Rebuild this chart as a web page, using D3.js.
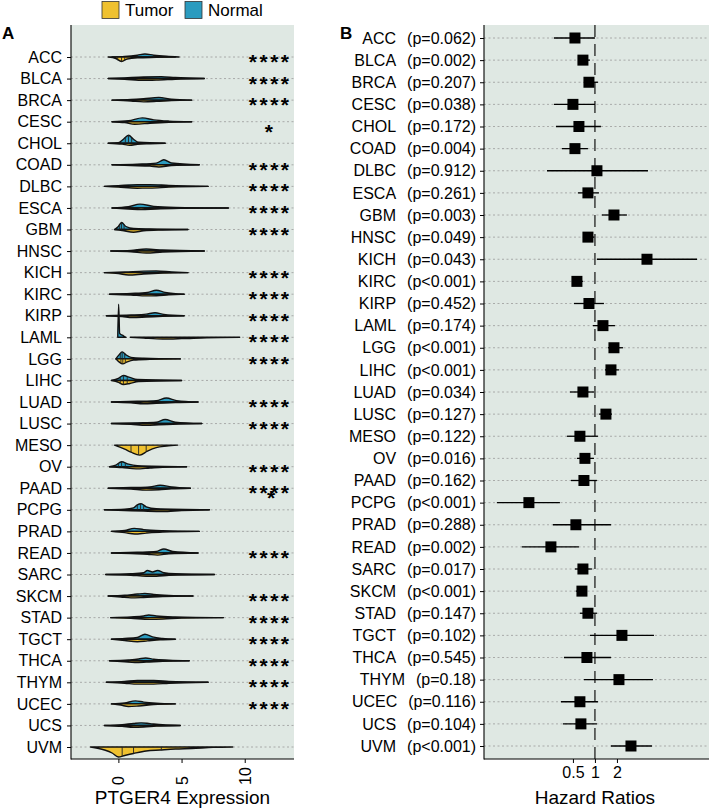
<!DOCTYPE html>
<html>
<head>
<meta charset="utf-8">
<script src="https://d3js.org/d3.v7.min.js"></script>
<style>
    body { margin: 0; background: #fff; }
    text { font-family: "Liberation Sans", Arial, sans-serif; }
    .grid line { stroke: #9a9a9a; stroke-width: 0.8; stroke-dasharray: 2, 2.5; }
</style>
</head>
<body>
<svg id="chart" width="709" height="809"></svg>
<script>
// ---- data ----
const cancers = ["ACC","BLCA","BRCA","CESC","CHOL","COAD","DLBC","ESCA","GBM","HNSC","KICH",
    "KIRC","KIRP","LAML","LGG","LIHC","LUAD","LUSC","MESO","OV","PAAD","PCPG","PRAD","READ",
    "SARC","SKCM","STAD","TGCT","THCA","THYM","UCEC","UCS","UVM"];

const sigLabels = ["****","****","****","*","","****","****","****","****","","****",
    "****","****","****","****","","****","****","","****","****","","","****",
    "","****","****","****","****","****","****","",""];
const extraSig = [{cancer: "PAAD", label: "*"}];

// violin halves, [expression, density] knots
const normalDensity = [
    [[-0.5,0],[0.5,0.5],[1.5,1.8],[2.1,3],[2.8,1.8],[3.8,0.7],[4.8,0]],
    [[-0.8,0],[0.5,0.7],[2,1.6],[3.4,1.9],[4.5,1],[6.8,0]],
    [[-0.5,0],[1,0.6],[2,1.4],[3.2,2.6],[4.2,0.9],[5.8,0]],
    [[-0.5,0],[0.8,0.9],[1.9,3.8],[2.8,1.8],[4,0.6],[5.8,0]],
    [[-0.8,0],[0,0.5],[0.4,4],[0.8,8],[1.2,4],[1.6,1],[3.7,0]],
    [[-0.5,0],[1.5,0.7],[3,1.7],[3.6,5],[4.2,1.8],[6.4,0]],
    [[-1.1,0],[0,0.8],[1.5,1.8],[2.5,1.8],[4,0.9],[7.1,0]],
    [[-0.5,0],[0.8,1.2],[1.7,3.8],[2.8,1.6],[4.5,0.6],[8.7,0]],
    [[-0.3,0],[0,3],[0.25,7],[0.6,3],[1.2,1],[2.5,0.5],[5.5,0]],
    [[-0.6,0],[1,0.7],[2.2,2],[3.5,1],[6.8,0]],
    [[-1.1,0],[0.5,0.6],[2,1.5],[3,1.7],[4.2,0.8],[5.5,0]],
    [[-0.7,0],[1,0.7],[2.3,1.7],[3,4],[3.7,1.8],[5.2,0]],
    [[-0.95,0],[1,0.7],[2.2,1.6],[2.9,3],[3.6,1.3],[5.2,0]],
    [[-0.05,0],[0.02,33],[0.1,4],[0.4,1.5],[0.6,0]],
    [[-0.2,0],[0.05,4],[0.3,7],[0.6,4],[1,1.5],[2,0.7],[4.9,0]],
    [[-0.55,0],[0,2],[0.4,5],[0.9,3],[1.5,1],[5,0]],
    [[-0.55,0],[1.5,0.7],[3,1.4],[3.8,4],[4.6,1.4],[6.3,0]],
    [[-0.55,0],[1.5,0.7],[3,1.4],[3.7,4],[4.5,1.4],[6.6,0]],
    null,
    [[-0.7,0],[-0.2,1.5],[0.25,5],[0.8,2.5],[1.5,1],[5.4,0]],
    [[-0.8,0],[1,0.7],[2.5,1.4],[3.3,3],[4.2,1.4],[5.7,0]],
    [[-1.1,0],[0.5,0.6],[1.2,2],[1.5,5],[1.8,6],[2.2,3],[3,1],[7.2,0]],
    [[-0.55,0],[0.5,0.9],[1.25,3],[2,1.8],[3.5,0.7],[6.4,0]],
    [[-0.55,0],[1.5,0.7],[3,1.4],[3.6,4],[4.3,1.4],[6.3,0]],
    [[-1,0],[1,0.7],[2,1.8],[2.3,4],[2.7,2.5],[3.1,4],[3.6,1.8],[4.5,0.7],[7.6,0]],
    [[-0.8,0],[0.5,0.8],[1.5,2],[2.1,2.6],[2.8,1.6],[4,0.6],[5.9,0]],
    [[-0.6,0],[1,0.7],[2,1.6],[2.4,2.7],[3,1.6],[4.5,0.7],[8.3,0]],
    [[-0.55,0],[0.5,0.7],[1.5,1.8],[2.1,5],[2.7,2.3],[3.5,0.7],[4.5,0]],
    [[-0.7,0],[0.8,0.8],[1.6,1.7],[2.15,2.8],[2.8,1.5],[4,0.6],[5.6,0]],
    [[-0.95,0],[0.5,0.9],[1.5,1.8],[2.8,1.8],[4,0.9],[7.1,0]],
    [[-0.55,0],[0.5,0.9],[1.35,3],[2,1.8],[3,0.7],[4.5,0]],
    [[-1.1,0],[0.3,0.8],[1.2,2],[1.8,2.6],[2.5,1.8],[3.5,0.7],[4.9,0]],
    null
];
const tumorDensity = [
    [[-0.8,0],[-0.2,1.5],[0.25,4.5],[0.7,2],[1.5,0.9],[3,0.4],[4.5,0]],
    [[-0.8,0],[0.5,0.7],[2,1.7],[3,1.6],[4.5,0.7],[6.8,0]],
    [[-0.5,0],[1,0.9],[2,1.7],[3,1.3],[4.2,0.5],[5.8,0]],
    [[-0.5,0],[0.5,0.9],[1.3,2.6],[2.5,1.5],[4,0.5],[5.8,0]],
    [[-0.8,0],[0.3,0.9],[0.9,2],[1.5,1.1],[2.5,0.5],[3.7,0]],
    [[-0.5,0],[1,0.7],[2.5,1.3],[3.2,2.2],[4.2,0.8],[6.4,0]],
    [[-1.1,0],[0,0.8],[1.5,1.8],[2.5,1.7],[4,0.8],[7.1,0]],
    [[-0.5,0],[0.8,1],[1.8,1.7],[3,1],[5,0.4],[8.7,0]],
    [[-0.3,0],[0.3,1],[1.2,2.8],[2,1.3],[3.5,0.5],[5.5,0]],
    [[-0.6,0],[1,0.7],[2.2,2],[3.5,1],[6.8,0]],
    [[-1.1,0],[0,1],[0.8,2.4],[2,1.4],[3.5,0.5],[5.5,0]],
    [[-0.7,0],[1,0.8],[2.2,1.7],[3,1.5],[4,0.7],[5.2,0]],
    [[-0.95,0],[0.3,0.8],[1.1,1.8],[2.2,1.3],[3.5,0.6],[5.2,0]],
    [[0.95,0],[2,0.8],[3.5,1.7],[5,1.3],[7,0.4],[9.6,0]],
    [[-0.2,0],[0.05,3],[0.35,5],[0.7,3],[1.2,1.2],[2.5,0.5],[4.9,0]],
    [[-0.55,0],[0,2],[0.4,4],[0.9,3],[1.6,1],[5,0]],
    [[-0.55,0],[1,0.8],[2,1.7],[3,1.3],[4.5,0.5],[6.3,0]],
    [[-0.55,0],[1,0.8],[2.2,1.7],[3.2,1.3],[4.8,0.5],[6.6,0]],
    [[-0.3,0],[0,1.5],[0.5,4],[1,7],[1.7,10],[2.3,6],[3,2.5],[3.8,1],[4.7,0]],
    [[-0.7,0],[0.3,0.9],[1.4,2.2],[2.5,1.3],[3.5,0.5],[5.4,0]],
    [[-0.8,0],[1,0.8],[2.2,1.9],[3.2,1.5],[4.2,0.6],[5.7,0]],
    [[-1.1,0],[0.5,0.7],[2,1.3],[3.5,1.7],[5,0.8],[7.2,0]],
    [[-0.55,0],[0.5,1.3],[1.3,2.6],[2.2,1.7],[3.5,0.7],[6.4,0]],
    [[-0.55,0],[1,0.7],[2.3,1.3],[3.1,2.2],[4,0.8],[6.3,0]],
    [[-1,0],[1,0.7],[2.2,1.7],[3,1.7],[4,0.8],[7.6,0]],
    [[-0.8,0],[0.2,1],[1,1.8],[2,1.4],[3.5,0.5],[5.9,0]],
    [[-0.6,0],[1,0.8],[2.5,1.7],[3.5,1.5],[5,0.5],[8.3,0]],
    [[-0.55,0],[0.5,1.3],[1.5,2.5],[2.3,1.7],[3.3,0.7],[4.5,0]],
    [[-0.7,0],[0.5,1.1],[1.3,1.8],[2.2,1.4],[3.5,0.5],[5.6,0]],
    [[-0.95,0],[0.5,0.9],[1.5,1.8],[2.8,1.8],[4,0.9],[7.1,0]],
    [[-0.55,0],[0.2,1.3],[0.8,2.6],[1.6,2.1],[2.8,0.8],[4.5,0]],
    [[-1.1,0],[0.3,0.9],[1.2,1.8],[2,1.5],[3,0.7],[4.9,0]],
    [[-2.2,0],[-1.1,3],[-0.5,6],[0,10],[0.5,8.5],[1.2,6.5],[2.2,4],[3.3,3],[4.5,2],[5.8,1.5],[7.5,0.4],[9.05,0]]
];

// quartile marks inside the visible halves: [expression, density]
const quartileMarks = [
    {cancer: "ACC",  half: "tumor",  marks: [[-0.05,3.2],[0.25,4.5],[0.5,3.3]]},
    {cancer: "CHOL", half: "normal", marks: [[0.55,6],[0.8,8],[1.05,5.5]]},
    {cancer: "GBM",  half: "normal", marks: [[0.1,5],[0.25,7],[0.45,5]]},
    {cancer: "LGG",  half: "normal", marks: [[0.15,5.5],[0.3,7],[0.5,5.5]]},
    {cancer: "LGG",  half: "tumor",  marks: [[0.2,4],[0.35,5],[0.55,4]]},
    {cancer: "LIHC", half: "normal", marks: [[0.15,3.5],[0.4,5],[0.7,4]]},
    {cancer: "LIHC", half: "tumor",  marks: [[0.15,3],[0.4,4],[0.7,3.5]]},
    {cancer: "OV",   half: "normal", marks: [[0,3],[0.25,5],[0.55,3.5]]},
    {cancer: "PCPG", half: "normal", marks: [[1.5,5],[1.75,6],[2.0,4.5]]},
    {cancer: "MESO", half: "tumor",  marks: [[1.0,7],[1.6,9.6],[2.2,6.5]]},
    {cancer: "UVM",  half: "tumor",  marks: [[0.3,9.3],[1.2,6.5],[3.4,2.9]]}
];

const pLabels = ["(p=0.062)","(p=0.002)","(p=0.207)","(p=0.038)","(p=0.172)","(p=0.004)",
    "(p=0.912)","(p=0.261)","(p=0.003)","(p=0.049)","(p=0.043)","(p<0.001)","(p=0.452)",
    "(p=0.174)","(p<0.001)","(p<0.001)","(p=0.034)","(p=0.127)","(p=0.122)","(p=0.016)",
    "(p=0.162)","(p<0.001)","(p=0.288)","(p=0.002)","(p=0.017)","(p<0.001)","(p=0.147)",
    "(p=0.102)","(p=0.545)","(p=0.18)","(p=0.116)","(p=0.104)","(p<0.001)"];

const hazardRatio = [0.533,0.685,0.828,0.50,0.604,0.533,1.065,0.802,1.82,0.802,5.15,0.567,0.828,
    1.287,1.82,1.656,0.685,1.414,0.623,0.73,0.707,0.125,0.549,0.25,0.685,0.664,0.802,2.34,
    0.777,2.13,0.623,0.643,3.11];
const ciLow = [0.275,0.604,0.707,0.275,0.293,0.354,0.221,0.585,1.247,0.685,1.065,0.50,0.516,
    0.939,1.506,1.37,0.455,1.134,0.414,0.567,0.469,0.0456,0.266,0.10,0.533,0.549,0.623,0.854,
    0.377,0.707,0.343,0.365,1.656];
const ciHigh = [1.0,0.854,1.099,1.0,1.208,0.802,5.31,1.134,2.74,0.98,24.9,0.685,1.328,
    1.878,2.417,2.13,0.969,1.709,1.099,0.969,1.065,0.332,1.656,0.604,0.91,0.777,1.065,6.42,
    1.656,6.22,1.099,1.065,6.02];

const exprTicks = [0, 5, 10];
const hrTicks = [0.5, 1, 2];
const groups = ["Tumor", "Normal"];

// ---- setup ----
const svg = d3.select("#chart");
const colors = {Tumor: "#efc130", Normal: "#2b9bbf"};
const bg = "#dfe8e3";

const A = {left: 71, right: 294, top: 25, bottom: 759};
const B = {left: 484, right: 709, top: 25, bottom: 759};

const xA = d3.scaleLinear().domain([-3.75, 13.9]).range([A.left, A.right]);
const yA = d3.scalePoint().domain(cancers).range([57, 747]);
const dens = d3.scaleLinear().domain([0, 10]).range([0, 10]);

const xB = d3.scaleLog().domain([0.0304, 36.3]).range([B.left, B.right]);
const yB = d3.scalePoint().domain(cancers).range([38, 746]);

// panel backgrounds
[A, B].forEach(p => {
    svg.append("rect")
       .attr("x", p.left).attr("y", p.top)
       .attr("width", p.right - p.left).attr("height", p.bottom - p.top)
       .attr("fill", bg);
});

// legend
const legend = svg.append("g").attr("id", "legend");
const legendX = [102, 185];
groups.forEach((g, i) => {
    legend.append("rect")
          .attr("x", legendX[i]).attr("y", 1.5)
          .attr("width", 17).attr("height", 17)
          .attr("fill", colors[g]).attr("stroke", "#333").attr("stroke-width", 0.8);
    legend.append("text")
          .attr("x", legendX[i] + 23).attr("y", 16)
          .attr("font-size", 17).text(g);
});

// panel tags
svg.append("text").attr("x", 2).attr("y", 39).attr("font-size", 17)
   .attr("font-weight", "bold").text("A");
svg.append("text").attr("x", 340).attr("y", 39).attr("font-size", 17)
   .attr("font-weight", "bold").text("B");

// ---- panel A ----
const gridA = svg.append("g").attr("class", "grid");
gridA.selectAll("line").data(cancers).join("line")
     .attr("x1", A.left).attr("x2", A.right)
     .attr("y1", d => yA(d)).attr("y2", d => yA(d));

const violins = svg.append("g").attr("id", "violins");
cancers.forEach((c, i) => {
    const y0 = yA(c);
    const halves = [
        {data: normalDensity[i], sign: -1, fill: colors.Normal},
        {data: tumorDensity[i], sign: 1, fill: colors.Tumor}
    ];
    halves.forEach(h => {
        if (!h.data) return;
        const area = d3.area()
            .x(d => xA(d[0]))
            .y0(y0)
            .y1(d => y0 + h.sign * dens(d[1]))
            .curve(d3.curveMonotoneX);
        violins.append("path")
               .attr("d", area(h.data))
               .attr("fill", h.fill)
               .attr("stroke", "#111")
               .attr("stroke-width", 1.4)
               .attr("stroke-linejoin", "round");
    });
});

quartileMarks.forEach(q => {
    const y0 = yA(q.cancer);
    const sign = q.half === "normal" ? -1 : 1;
    violins.selectAll(null).data(q.marks).join("line")
        .attr("x1", d => xA(d[0])).attr("x2", d => xA(d[0]))
        .attr("y1", y0).attr("y2", d => y0 + sign * dens(d[1]))
        .attr("stroke", "#222").attr("stroke-width", 0.9);
});

// significance stars
const starX = 269;
const stars = svg.append("g").attr("id", "stars");
stars.selectAll("text").data(cancers).join("text")
     .attr("x", starX + 1.2)
     .attr("y", (d, i) => yA(d) + (sigLabels[i].length === 1 ? 17.5 : 12))
     .attr("text-anchor", "middle")
     .attr("font-size", 21).attr("font-weight", "bold")
     .attr("letter-spacing", 2.5)
     .text((d, i) => sigLabels[i]);
extraSig.forEach(s => {
    stars.append("text")
         .attr("x", starX + 2).attr("y", yA(s.cancer) + 17)
         .attr("text-anchor", "middle").attr("font-size", 21).attr("font-weight", "bold")
         .text(s.label);
});

// axes A
const leftA = svg.append("g")
    .attr("transform", `translate(${A.left},0)`)
    .call(d3.axisLeft(yA).tickSize(4).tickPadding(5).tickSizeOuter(0));
leftA.select(".domain").remove();
leftA.selectAll(".tick text").attr("font-size", 16).attr("fill", "#000")
     .attr("font-family", "'Liberation Sans', Arial, sans-serif");

const bottomA = svg.append("g")
    .attr("transform", `translate(0,${A.bottom})`)
    .call(d3.axisBottom(xA).tickValues(exprTicks).tickSize(4).tickSizeOuter(0));
bottomA.select(".domain").remove();
bottomA.selectAll(".tick text")
       .attr("font-size", 16).attr("fill", "#000")
       .attr("font-family", "'Liberation Sans', Arial, sans-serif")
       .attr("transform", "rotate(-90)")
       .attr("text-anchor", "start")
       .attr("x", -26).attr("y", 0).attr("dy", "0.35em");

svg.append("line").attr("x1", A.left).attr("x2", A.left)
   .attr("y1", A.top).attr("y2", A.bottom + 0.5)
   .attr("stroke", "#000").attr("stroke-width", 1.1);
svg.append("line").attr("x1", A.left).attr("x2", A.right)
   .attr("y1", A.bottom).attr("y2", A.bottom)
   .attr("stroke", "#000").attr("stroke-width", 1.1);

svg.append("text").attr("x", (A.left + A.right) / 2).attr("y", 804)
   .attr("text-anchor", "middle").attr("font-size", 19).text("PTGER4 Expression");

// ---- panel B ----
const gridB = svg.append("g").attr("class", "grid");
gridB.selectAll("line").data(cancers).join("line")
     .attr("x1", B.left).attr("x2", B.right)
     .attr("y1", d => yB(d)).attr("y2", d => yB(d));

svg.append("line")
   .attr("x1", xB(1)).attr("x2", xB(1))
   .attr("y1", B.top).attr("y2", B.bottom)
   .attr("stroke", "#222").attr("stroke-width", 1.3)
   .attr("stroke-dasharray", "12,7");

const forest = svg.append("g").attr("id", "forest");
forest.selectAll("line").data(cancers).join("line")
      .attr("x1", (d, i) => xB(ciLow[i])).attr("x2", (d, i) => xB(ciHigh[i]))
      .attr("y1", d => yB(d)).attr("y2", d => yB(d))
      .attr("stroke", "#000").attr("stroke-width", 1.3);
forest.selectAll("rect").data(cancers).join("rect")
      .attr("x", (d, i) => xB(hazardRatio[i]) - 5.5)
      .attr("y", d => yB(d) - 5.5)
      .attr("width", 11).attr("height", 11)
      .attr("fill", "#000");

const leftB = svg.append("g")
    .attr("transform", `translate(${B.left},0)`)
    .call(d3.axisLeft(yB).tickSize(4).tickPadding(4).tickSizeOuter(0));
leftB.select(".domain").remove();
leftB.selectAll(".tick text")
     .attr("font-size", 16).attr("fill", "#000")
     .attr("font-family", "'Liberation Sans', Arial, sans-serif")
     .each(function(d) {
         const t = d3.select(this);
         t.text(null);
         t.append("tspan").text(d);
         t.append("tspan").attr("dx", 11).text(pLabels[cancers.indexOf(d)]);
     });

const bottomB = svg.append("g")
    .attr("transform", `translate(0,${B.bottom})`)
    .call(d3.axisBottom(xB).tickValues(hrTicks).tickFormat(d3.format("")).tickSize(4).tickSizeOuter(0));
bottomB.select(".domain").remove();
bottomB.selectAll(".tick text")
       .attr("font-size", 16).attr("fill", "#000")
       .attr("font-family", "'Liberation Sans', Arial, sans-serif")
       .attr("y", 8);

svg.append("line").attr("x1", B.left).attr("x2", B.left)
   .attr("y1", B.top).attr("y2", B.bottom + 0.5)
   .attr("stroke", "#000").attr("stroke-width", 1.1);
svg.append("line").attr("x1", B.left).attr("x2", B.right)
   .attr("y1", B.bottom).attr("y2", B.bottom)
   .attr("stroke", "#000").attr("stroke-width", 1.1);

svg.append("text").attr("x", xB(1)).attr("y", 804)
   .attr("text-anchor", "middle").attr("font-size", 19).text("Hazard Ratios");
</script>
</body>
</html>
